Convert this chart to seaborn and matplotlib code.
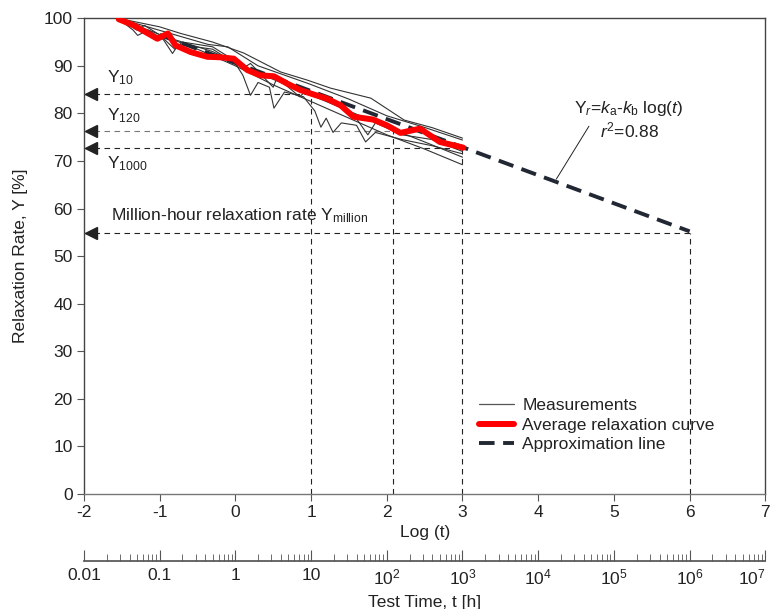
import numpy as np
import pandas as pd
import matplotlib
matplotlib.use("Agg")
import matplotlib.pyplot as plt
import seaborn as sns
from matplotlib.lines import Line2D
from matplotlib.ticker import FixedLocator, FixedFormatter, LogLocator, NullFormatter

# ---------------- data ----------------
meas1_x = [-1.55, -1.0, -0.72, -0.3, 0.11, 0.6, 0.95, 1.26, 1.79, 2.23, 2.6, 3.0]
meas1_y = [100.0, 98.2, 96.8, 95.0, 92.7, 88.7, 87.0, 85.3, 83.2, 78.6, 77.0, 74.8]
meas2_x = [-1.55, -0.9, -0.36, -0.1, 0.3, 0.96, 1.5, 2.0, 2.49, 3.0]
meas2_y = [100.0, 97.0, 94.5, 94.0, 90.0, 86.3, 83.0, 79.5, 77.1, 74.4]
meas3_x = [-1.55, -1.3, -1.2, -1.0, -0.8, -0.7, -0.3, 0.0, 0.1, 0.2, 0.5, 0.55, 0.85, 0.95,
           1.3, 1.55, 1.75, 1.85, 2.2, 2.6, 3.0]
meas3_y = [100.0, 97.5, 98.5, 96.5, 93.5, 95.0, 94.0, 91.0, 89.5, 90.5, 85.5, 87.5, 83.5, 85.0,
           82.0, 80.0, 75.5, 78.0, 75.5, 74.5, 72.0]
meas4_x = [-1.55, -1.35, -1.29, -1.15, -0.95, -0.83, -0.75, -0.3, 0.0, 0.1, 0.2, 0.3, 0.45, 0.51,
           0.65, 0.9, 1.05, 1.13, 1.2, 1.29, 1.4, 1.6, 1.72, 1.85, 2.2, 2.6, 3.0]
meas4_y = [100.0, 97.5, 96.4, 97.5, 95.5, 92.6, 94.5, 93.5, 90.5, 88.0, 83.8, 86.5, 85.5, 81.1,
           84.5, 83.5, 80.5, 77.1, 79.0, 76.0, 78.0, 77.5, 74.0, 76.0, 74.5, 73.2, 71.5]
meas5_x = [-1.55, -0.5, 0.0, 0.5, 1.0, 1.5, 2.0, 2.5, 3.0]
meas5_y = [100.0, 93.5, 90.0, 86.0, 82.5, 79.0, 75.5, 72.5, 69.2]
meas6_x = [-1.55, -1.2, -0.8, -0.3, 0.3, 0.9, 1.5, 2.1, 2.5, 3.0]
meas6_y = [100.0, 97.0, 95.5, 93.0, 88.5, 84.5, 80.5, 76.5, 74.0, 70.8]

avg_x = [-1.54, -1.34, -1.03, -0.89, -0.79, -0.59, -0.37, -0.20, -0.02, 0.16, 0.33, 0.51,
         0.68, 0.86, 1.03, 1.21, 1.39, 1.56, 1.82, 2.00, 2.18, 2.44, 2.70, 3.01]
avg_y = [99.8, 98.5, 95.7, 96.8, 94.3, 92.9, 91.9, 91.8, 91.5, 89.1, 88.0, 87.8,
         86.3, 84.9, 84.0, 83.1, 81.7, 79.3, 78.7, 77.5, 75.9, 76.8, 74.0, 72.8]

approx_x = [-1.0, 6.0]
approx_y = [96.5, 55.2]

ref_logt = [1.0, 2.08, 3.0, 6.0]
ref_y = [84.0, 76.3, 72.8, 54.8]
ref_labels = ["Y$_{10}$", "Y$_{120}$", "Y$_{1000}$", "Million-hour relaxation rate Y$_{million}$"]

x_ticks = [-2, -1, 0, 1, 2, 3, 4, 5, 6, 7]
y_ticks = [0, 10, 20, 30, 40, 50, 60, 70, 80, 90, 100]
time_ticks = [0.01, 0.1, 1, 10, 1e2, 1e3, 1e4, 1e5, 1e6, 1e7]
time_labels = ["0.01", "0.1", "1", "10", "10$^2$", "10$^3$", "10$^4$", "10$^5$", "10$^6$", "10$^7$"]

# ---------------- style ----------------
sns.set_theme(style="white")
plt.rcParams["font.family"] = ["Liberation Sans", "DejaVu Sans"]
plt.rcParams["mathtext.fontset"] = "custom"
plt.rcParams["mathtext.rm"] = "Liberation Sans"
plt.rcParams["mathtext.it"] = "Liberation Sans:italic"
plt.rcParams["mathtext.default"] = "regular"
plt.rcParams["axes.unicode_minus"] = False

FS = 12.5
TXT = "#222222"
fig = plt.figure(figsize=(7.77, 6.09), dpi=100)
ax = fig.add_axes([0.108, 0.189, 0.877, 0.781])

# measurements
frames = []
for i, (mx, my) in enumerate([(meas1_x, meas1_y), (meas2_x, meas2_y), (meas3_x, meas3_y),
                              (meas4_x, meas4_y), (meas5_x, meas5_y), (meas6_x, meas6_y)]):
    frames.append(pd.DataFrame({"logt": mx, "Y": my, "sample": i}))
meas = pd.concat(frames, ignore_index=True)
sns.lineplot(data=meas, x="logt", y="Y", units="sample", estimator=None, sort=False,
             color="#333333", lw=0.8, legend=False, ax=ax, zorder=3)

# approximation line
sns.lineplot(x=approx_x, y=approx_y, color="#222833", lw=2.8, ax=ax,
             linestyle=(0, (4, 2.2)), zorder=4)
# average curve
sns.lineplot(x=avg_x, y=avg_y, color="#ff0000", lw=4.3, ax=ax, sort=False, zorder=5)

# reference guide lines
for i, (lt, yv) in enumerate(zip(ref_logt, ref_y)):
    col = "#777777" if i == 1 else "#222222"
    ax.plot([-2, lt], [yv, yv], color=col, lw=0.8, linestyle=(0, (5, 4)), zorder=2)
    ax.plot([lt, lt], [0, yv], color="#222222", lw=0.8, linestyle=(0, (5, 4)), zorder=2)
    ax.plot([-1.9], [yv], marker="<", color="#222222", markersize=8, clip_on=False, zorder=6)

ax.text(-1.7, 87.6, ref_labels[0], fontsize=FS, color=TXT, va="center")
ax.text(-1.7, 79.6, ref_labels[1], fontsize=FS, color=TXT, va="center")
ax.text(-1.7, 69.4, ref_labels[2], fontsize=FS, color=TXT, va="center")
ax.text(-1.64, 58.4, ref_labels[3], fontsize=FS, color=TXT, va="center")

# equation annotation
ax.text(5.2, 81.0, r"Y$_{\mathit{r}}$=$\mathit{k}_{a}$-$\mathit{k}_{b}$ log($\mathit{t}$)",
        fontsize=FS, color=TXT, ha="center", va="center")
ax.text(5.2, 76.5, r"$\mathit{r}^{2}$=0.88", fontsize=FS, color=TXT, ha="center", va="center")
ax.plot([4.67, 4.24], [77.3, 66.2], color="#222222", lw=0.7)

# axes
ax.set_xlim(-2, 7)
ax.set_ylim(0, 100)
ax.xaxis.set_major_locator(FixedLocator(x_ticks))
ax.yaxis.set_major_locator(FixedLocator(y_ticks))
ax.tick_params(axis="both", which="major", direction="out", length=5, width=0.8,
               labelsize=FS, labelcolor=TXT, color="#555555", pad=3)
ax.tick_params(axis="x", bottom=True, top=False)
ax.tick_params(axis="y", left=True, right=False)
for s in ax.spines.values():
    s.set_color("#444444")
    s.set_linewidth(1.0)
ax.spines["bottom"].set_color("#777777")
ax.set_xlabel("Log (t)", fontsize=FS, color=TXT, labelpad=3.5)
ax.set_ylabel("Relaxation Rate, Y [%]", fontsize=FS, color=TXT, labelpad=11.5)

# legend
handles = [Line2D([0], [0], color="#555555", lw=0.9),
           Line2D([0], [0], color="#ff0000", lw=4.3),
           Line2D([0], [0], color="#222833", lw=2.8, linestyle=(0, (4, 2.2)))]
ax.legend(handles, ["Measurements", "Average relaxation curve", "Approximation line"],
          loc="upper left", bbox_to_anchor=(0.557, 0.234), frameon=False, fontsize=FS,
          handlelength=2.0, handletextpad=0.5, labelspacing=0.25, labelcolor=TXT)

# secondary time axis
ax2 = fig.add_axes([0.108, 0.079, 0.877, 0.001])
ax2.set_facecolor("none")
ax2.set_xscale("log")
ax2.set_xlim(0.01, 1e7)
ax2.set_yticks([])
for side in ["top", "left", "right"]:
    ax2.spines[side].set_visible(False)
ax2.spines["bottom"].set_color("#555555")
ax2.xaxis.set_major_locator(FixedLocator(time_ticks))
ax2.xaxis.set_major_formatter(FixedFormatter(time_labels))
ax2.xaxis.set_minor_locator(LogLocator(base=10, subs=np.arange(2, 10), numticks=100))
ax2.xaxis.set_minor_formatter(NullFormatter())
ax2.tick_params(axis="x", which="both", bottom=True, top=False)
ax2.tick_params(axis="x", which="major", direction="in", length=8, width=0.8,
                labelsize=FS, labelcolor=TXT, color="#555555", pad=5)
ax2.tick_params(axis="x", which="minor", direction="in", length=5, width=0.6, color="#555555")
ax2.set_xlabel("Test Time, t [h]", fontsize=FS, color=TXT, labelpad=5)
# keep the last decade label inside the canvas
ax2.get_xticklabels()[-1].set_horizontalalignment("right")

fig.savefig("out.png", dpi=100)
